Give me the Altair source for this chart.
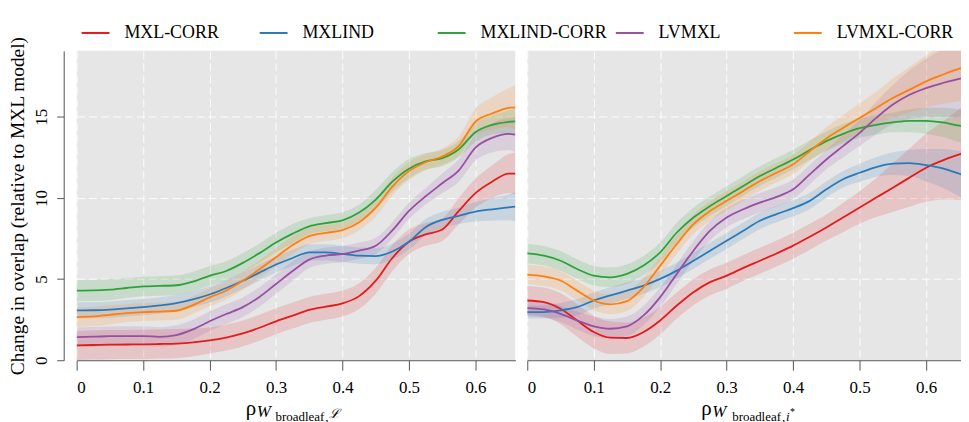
import altair as alt
import pandas as pd

FONT = "Liberation Serif"

SERIES = ["MXL-CORR", "MXLIND", "MXLIND-CORR", "LVMXL", "LVMXL-CORR"]
COLORS = ["#e41a1c", "#2a7ab9", "#2ca33a", "#984ea3", "#ff7f0e"]

X_GRID = [0, 0.025, 0.05, 0.075, 0.1, 0.125, 0.15, 0.175, 0.2, 0.225, 0.25, 0.275,
          0.3, 0.325, 0.35, 0.375, 0.4, 0.425, 0.45, 0.475, 0.5, 0.525, 0.55, 0.575,
          0.6, 0.625, 0.65, 0.66]
X_TICKS = [0, 0.1, 0.2, 0.3, 0.4, 0.5, 0.6]
Y_TICKS = [0, 5, 10, 15]

# Left panel (rho W_broadleaf, L)
L_RED = [0.92, 0.94, 0.96, 0.97, 0.98, 1.0, 1.03, 1.1, 1.22, 1.4, 1.65, 2.0, 2.4, 2.75,
         3.1, 3.3, 3.5, 3.95, 4.9, 6.3, 7.3, 7.75, 8.05, 9.2, 10.3, 11.0, 11.5, 11.5]
L_BLUE = [3.07, 3.08, 3.12, 3.2, 3.27, 3.38, 3.52, 3.75, 4.05, 4.45, 4.9, 5.4, 5.9, 6.3,
          6.65, 6.65, 6.55, 6.45, 6.42, 6.7, 7.3, 8.2, 8.65, 8.9, 9.15, 9.3, 9.42, 9.47]
L_GREEN = [4.29, 4.3, 4.35, 4.45, 4.55, 4.58, 4.62, 4.85, 5.2, 5.5, 6.0, 6.6, 7.25, 7.8,
           8.25, 8.45, 8.62, 9.1, 9.9, 11.0, 11.8, 12.25, 12.45, 13.0, 14.05, 14.5, 14.68, 14.72]
L_PURPLE = [1.43, 1.45, 1.48, 1.49, 1.49, 1.44, 1.55, 1.9, 2.4, 2.85, 3.27, 3.9, 4.7, 5.5,
            6.2, 6.45, 6.54, 6.75, 7.05, 8.0, 9.2, 10.1, 10.9, 11.7, 13.1, 13.7, 13.95, 13.9]
L_ORANGE = [2.66, 2.7, 2.8, 2.9, 2.97, 3.0, 3.05, 3.4, 3.87, 4.3, 4.9, 5.6, 6.35, 7.1,
            7.65, 7.85, 8.02, 8.5, 9.4, 10.7, 11.65, 12.2, 12.55, 13.2, 14.7, 15.2, 15.55, 15.58]

L_RED_HW = [0.9, 0.9, 0.9, 0.9, 0.9, 0.9, 0.9, 0.85, 0.8, 0.8, 0.8, 0.8, 0.8, 0.8,
            0.8, 0.8, 0.8, 0.8, 0.8, 0.8, 0.75, 0.7, 0.7, 0.8, 0.9, 1.0, 1.2, 1.3]
L_BLUE_HW = [0.5, 0.5, 0.5, 0.5, 0.5, 0.5, 0.5, 0.5, 0.5, 0.5, 0.5, 0.5, 0.5, 0.5,
             0.5, 0.5, 0.5, 0.5, 0.5, 0.5, 0.5, 0.5, 0.5, 0.5, 0.6, 0.7, 0.8, 0.9]
L_GREEN_HW = [0.65, 0.65, 0.65, 0.6, 0.6, 0.6, 0.6, 0.6, 0.6, 0.6, 0.6, 0.6, 0.6, 0.6,
              0.5, 0.5, 0.5, 0.5, 0.6, 0.6, 0.6, 0.5, 0.5, 0.5, 0.6, 0.6, 0.7, 0.8]
L_PURPLE_HW = [0.6, 0.6, 0.6, 0.6, 0.6, 0.6, 0.6, 0.6, 0.6, 0.6, 0.6, 0.6, 0.6, 0.6,
               0.5, 0.5, 0.5, 0.5, 0.5, 0.5, 0.5, 0.5, 0.6, 0.7, 0.8, 0.9, 1.0, 1.1]
L_ORANGE_HW = [0.6, 0.6, 0.6, 0.55, 0.55, 0.55, 0.55, 0.55, 0.55, 0.55, 0.55, 0.55, 0.55, 0.55,
               0.5, 0.5, 0.5, 0.5, 0.55, 0.55, 0.55, 0.5, 0.5, 0.6, 0.8, 1.0, 1.2, 1.4]

# Right panel (rho W_broadleaf, i*)
R_RED = [3.68, 3.58, 3.17, 2.45, 1.74, 1.39, 1.37, 1.74, 2.45, 3.37, 4.19, 4.81, 5.21, 5.69,
         6.13, 6.58, 7.06, 7.61, 8.18, 8.79, 9.41, 10.02, 10.63, 11.25, 11.86, 12.31, 12.68, 12.78]
R_BLUE = [2.97, 2.97, 3.07, 3.27, 3.68, 3.99, 4.29, 4.6, 5.01, 5.52, 6.13, 6.75, 7.36, 7.98,
          8.59, 9.0, 9.37, 9.82, 10.53, 11.15, 11.55, 11.9, 12.11, 12.15, 12.02, 11.82, 11.49, 11.35]
R_GREEN = [6.58, 6.44, 6.13, 5.62, 5.21, 5.11, 5.32, 5.83, 6.65, 7.87, 8.79, 9.5, 10.12, 10.74,
           11.35, 11.86, 12.37, 12.95, 13.5, 13.95, 14.3, 14.5, 14.65, 14.75, 14.75, 14.65, 14.45, 14.4]
R_PURPLE = [3.21, 3.13, 2.86, 2.45, 2.09, 1.94, 2.09, 2.76, 3.89, 5.32, 6.75, 7.98, 8.79, 9.3,
            9.71, 10.06, 10.53, 11.45, 12.37, 13.19, 14.01, 14.93, 15.75, 16.36, 16.77, 17.08, 17.34, 17.42]
R_ORANGE = [5.28, 5.17, 4.91, 4.29, 3.68, 3.44, 3.64, 4.5, 5.83, 7.16, 8.38, 9.2, 9.82, 10.43,
            11.04, 11.55, 12.07, 12.88, 13.66, 14.31, 14.93, 15.54, 16.16, 16.67, 17.18, 17.59, 17.96, 18.08]

R_RED_HW = [0.9, 0.9, 0.95, 1.0, 1.0, 1.0, 0.95, 0.9, 0.85, 0.8, 0.8, 0.8, 0.8, 0.8,
            0.8, 0.8, 0.8, 0.8, 0.8, 0.9, 1.0, 1.2, 1.5, 1.8, 2.1, 2.4, 2.8, 3.0]
R_BLUE_HW = [0.4, 0.4, 0.45, 0.5, 0.5, 0.5, 0.5, 0.5, 0.5, 0.5, 0.5, 0.5, 0.5, 0.5,
             0.5, 0.5, 0.5, 0.5, 0.5, 0.5, 0.55, 0.6, 0.7, 0.8, 1.0, 1.2, 1.4, 1.5]
R_GREEN_HW = [0.6, 0.6, 0.6, 0.6, 0.6, 0.6, 0.6, 0.6, 0.6, 0.6, 0.6, 0.6, 0.6, 0.6,
              0.6, 0.6, 0.6, 0.6, 0.6, 0.6, 0.6, 0.6, 0.6, 0.7, 0.8, 0.9, 1.0, 1.0]
R_PURPLE_HW = [0.5, 0.5, 0.5, 0.55, 0.6, 0.6, 0.6, 0.6, 0.6, 0.6, 0.6, 0.6, 0.6, 0.6,
               0.6, 0.6, 0.6, 0.6, 0.6, 0.7, 0.8, 1.0, 1.2, 1.5, 1.8, 2.1, 2.4, 2.6]
R_ORANGE_HW = [0.6, 0.6, 0.6, 0.6, 0.6, 0.6, 0.6, 0.6, 0.6, 0.6, 0.6, 0.6, 0.6, 0.6,
               0.6, 0.6, 0.6, 0.6, 0.7, 0.8, 0.9, 1.0, 1.2, 1.4, 1.6, 1.8, 2.0, 2.1]

PANELS = {
    "L": ([L_RED, L_BLUE, L_GREEN, L_PURPLE, L_ORANGE],
          [L_RED_HW, L_BLUE_HW, L_GREEN_HW, L_PURPLE_HW, L_ORANGE_HW]),
    "R": ([R_RED, R_BLUE, R_GREEN, R_PURPLE, R_ORANGE],
          [R_RED_HW, R_BLUE_HW, R_GREEN_HW, R_PURPLE_HW, R_ORANGE_HW]),
}

rows = []
for panel, (vals, hws) in PANELS.items():
    for s, ys, hw in zip(SERIES, vals, hws):
        for x, y, h in zip(X_GRID, ys, hw):
            rows.append({"panel": panel, "series": s, "x": x, "y": y,
                         "lo": y - h, "hi": y + h})
df = pd.DataFrame(rows)
one = pd.DataFrame({"k": [0]})

Y_MAX = 19.06
GRID = dict(grid=True, gridColor="white", gridDash=[8, 4], gridWidth=1, gridOpacity=0.9)

LEGEND = alt.Legend(
    orient="none", legendX=4, legendY=-33, direction="horizontal",
    columns=5, gridAlign="all", symbolType="stroke", symbolSize=784,
    symbolStrokeWidth=2, symbolOpacity=1, labelFont=FONT, labelFontSize=18,
    labelColor="black", labelOffset=14, columnPadding=4, title=None,
)


def panel(name, width, xmax, left, title_parts):
    base = alt.Chart(df).transform_filter(alt.datum.panel == name)
    color = alt.Color("series:N", scale=alt.Scale(domain=SERIES, range=COLORS),
                      legend=LEGEND)
    xenc = alt.X(
        "x:Q",
        scale=alt.Scale(domain=[0, xmax], nice=False, zero=False),
        axis=alt.Axis(values=X_TICKS, format=".1~f", title=None, tickSize=10,
                      labelPadding=9, **GRID),
    )
    if left:
        yaxis = alt.Axis(values=Y_TICKS, offset=13, tickSize=7, labelAngle=270,
                         labelAlign="center", labelBaseline="bottom", labelPadding=6,
                         title="Change in overlap (relative to MXL model)",
                         titlePadding=5, **GRID)
    else:
        yaxis = alt.Axis(values=Y_TICKS, labels=False, ticks=False, domain=False,
                         title=None, **GRID)
    yscale = alt.Scale(domain=[0, Y_MAX], nice=False)
    band = base.mark_area(opacity=0.16, interpolate="monotone", clip=True).encode(
        x=xenc,
        y=alt.Y("lo:Q", scale=yscale, axis=yaxis),
        y2="hi:Q",
        color=color,
    )
    line = base.mark_line(strokeWidth=1.8, interpolate="monotone", clip=True).encode(
        x="x:Q", y="y:Q", color=color,
    )
    layers = [band, line]
    for txt, size, style, dx, dy in title_parts:
        layers.append(
            alt.Chart(one).mark_text(text=txt, font=FONT, fontSize=size, fontStyle=style,
                                     align="left", baseline="alphabetic", color="black")
            .encode(x=alt.value(dx), y=alt.value(dy))
        )
    return alt.layer(*layers).properties(width=width, height=311)


left = panel("L", 441, 0.66, True, [
    ("ρ", 21, "normal", 170, 366),
    ("W", 17, "italic", 181, 368),
    ("broadleaf", 13, "normal", 200, 372),
    (",", 13, "normal", 250, 372),
    ("ℒ", 13, "italic", 254, 369),
])
right = panel("R", 436, 0.6525, False, [
    ("ρ", 21, "normal", 175, 366),
    ("W", 17, "italic", 186, 368),
    ("broadleaf", 13, "normal", 206, 372),
    (",", 13, "normal", 256, 372),
    ("i", 13, "italic", 260, 372),
    ("*", 10, "normal", 264, 366),
])

chart = (
    alt.hconcat(left, right, spacing=11)
    .properties(padding={"left": 0, "top": 9, "right": 0, "bottom": 0})
    .configure_view(fill="#e6e6e6", stroke=None)
    .configure_axis(
        domainColor="#555555", tickColor="#555555", labelFont=FONT, labelFontSize=17,
        labelColor="black", titleFont=FONT, titleFontSize=19.5, titleFontWeight="normal",
        titleColor="black",
    )
)

chart.save("out.html", embed_options={"renderer": "svg", "actions": False})
